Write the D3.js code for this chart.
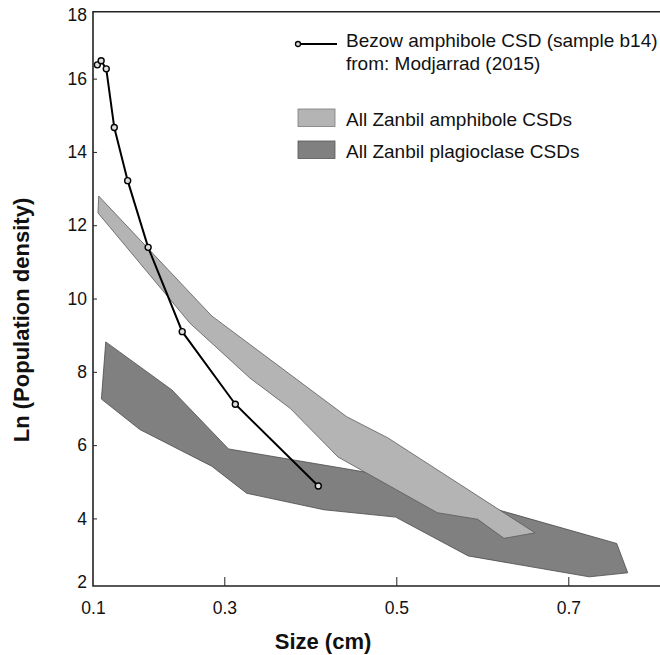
<!DOCTYPE html>
<html>
<head>
<meta charset="utf-8" />
<title>CSD plot</title>
<style>
body { margin: 0; background: #fff; }
#graph { width: 660px; height: 655px; }
svg text { font-family: "Liberation Sans", Arial, Helvetica, sans-serif; fill: #111; }
.axis path, .axis line { stroke: #222; }
</style>
</head>
<body>
<div id="graph"></div>

<script src="https://cdnjs.cloudflare.com/ajax/libs/d3/7.8.5/d3.min.js"></script>
<script>
// Bezow amphibole CSD (sample b14), line with markers
var bezowSize = [0.1066, 0.1124, 0.1202, 0.1324, 0.1528, 0.1840, 0.2359, 0.3128, 0.4093]
var bezowLn   = [16.39, 16.50, 16.28, 14.68, 13.23, 11.41, 9.11, 7.13, 4.90]

// All Zanbil amphibole CSDs, outline of the field (upper edge, then lower edge back)
var amphSize = [0.1087, 0.2808, 0.4423, 0.4903, 0.6613, 0.6252, 0.5947, 0.5477, 0.4322, 0.3765, 0.3300, 0.2477, 0.1076]
var amphLn   = [12.81, 9.54, 6.79, 6.21, 3.62, 3.47, 3.99, 4.17, 5.69, 7.02, 7.84, 9.34, 12.35]

// All Zanbil plagioclase CSDs, outline of the field
var plagSize = [0.1194, 0.2202, 0.3049, 0.4636, 0.7563, 0.7691, 0.7244, 0.5837, 0.4992, 0.4159, 0.3260, 0.2808, 0.1713, 0.1128]
var plagLn   = [8.83, 7.52, 5.91, 5.28, 3.33, 2.53, 2.42, 2.99, 4.05, 4.25, 4.70, 5.44, 6.44, 7.27]

var xTicks = [0.1, 0.3, 0.5, 0.7]
var yTicks = [2, 4, 6, 8, 10, 12, 14, 16, 18]

var legendItems = [
    { label: "All Zanbil amphibole CSDs", fill: "#b4b4b4", stroke: "#7a7a7a" },
    { label: "All Zanbil plagioclase CSDs", fill: "#808080", stroke: "#555" }
]

!(function(){
    "use strict"

    var left = 93, top = 11.7, bottom = 586, right = 660

    var svg = d3.select("#graph").append("svg")
        .attr("width", 660).attr("height", 655)

    // the original figure puts "0.1" at the origin, closer than the other ticks
    var xScale = d3.scaleLinear()
        .domain([0.1, 0.3, 0.81])
        .range([left, 224.3, 224.3 + 0.51 * 860])

    var yScale = d3.scaleLinear()
        .domain([2.17, 17.84])
        .range([bottom, top])

    var chartLayer = svg.append("g").classed("chartLayer", true)
    var axisLayer = svg.append("g").classed("axisLayer", true)

    function pts(xs, ys) { return xs.map(function(x, i){ return [x, ys[i]] }) }

    var area = d3.line()
        .x(function(d){ return xScale(d[0]) })
        .y(function(d){ return yScale(d[1]) })
        .curve(d3.curveLinearClosed)

    var line = d3.line()
        .x(function(d){ return xScale(d[0]) })
        .y(function(d){ return yScale(d[1]) })

    chartLayer.append("path")
        .attr("d", area(pts(plagSize, plagLn)))
        .attr("fill", "#808080")
        .attr("stroke", "#4a4a4a")
        .attr("stroke-width", 0.8)

    chartLayer.append("path")
        .attr("d", area(pts(amphSize, amphLn)))
        .attr("fill", "#b4b4b4")
        .attr("stroke", "#5a5a5a")
        .attr("stroke-width", 0.8)

    var bezow = pts(bezowSize, bezowLn)
    chartLayer.append("path")
        .attr("d", line(bezow))
        .attr("fill", "none")
        .attr("stroke", "#000")
        .attr("stroke-width", 2)

    chartLayer.selectAll(".pt").data(bezow).enter().append("circle")
        .classed("pt", true)
        .attr("cx", function(d){ return xScale(d[0]) })
        .attr("cy", function(d){ return yScale(d[1]) })
        .attr("r", 3)
        .attr("fill", "#ddd")
        .attr("stroke", "#000")
        .attr("stroke-width", 1.4)

    // axes
    var xAxis = d3.axisBottom(xScale)
        .tickValues(xTicks)
        .tickFormat(d3.format(".1f"))
        .tickSizeInner(-9).tickSizeOuter(0).tickPadding(16)

    var gx = axisLayer.append("g")
        .attr("class", "axis x")
        .attr("transform", "translate(0," + bottom + ")")
        .call(xAxis)
    gx.select(".domain").remove()
    gx.selectAll("text").style("font-size", "17.5px")
    gx.selectAll(".tick").filter(function(d){ return d === 0.1 }).select("line").remove()

    var yAxis = d3.axisLeft(yScale)
        .tickValues(yTicks)
        .tickSizeInner(-4).tickSizeOuter(0).tickPadding(6)

    var gy = axisLayer.append("g")
        .attr("class", "axis y")
        .attr("transform", "translate(" + left + ",0)")
        .call(yAxis)
    gy.select(".domain").remove()
    gy.selectAll("text").style("font-size", "17.5px")
    // end labels sit just inside the frame
    gy.selectAll(".tick").each(function(d){
        var y = Math.max(15, Math.min(582, yScale(d)))
        d3.select(this).attr("transform", "translate(0," + y + ")")
        if (d === 2 || d === 18) d3.select(this).select("line").remove()
    })

    // frame: left, bottom and top
    axisLayer.append("path")
        .attr("d", "M" + right + "," + top + "H" + left + "V" + bottom + "H" + right)
        .attr("fill", "none")
        .attr("stroke", "#222")
        .attr("stroke-width", 1.6)

    svg.append("text")
        .attr("x", 323).attr("y", 649)
        .attr("text-anchor", "middle")
        .style("font-size", "22px").style("font-weight", "bold")
        .text("Size (cm)")

    svg.append("text")
        .attr("transform", "translate(29,320) rotate(-90)")
        .attr("text-anchor", "middle")
        .style("font-size", "22px").style("font-weight", "bold")
        .text("Ln (Population density)")

    // legend
    var lg = svg.append("g").attr("class", "legend")
    lg.append("line")
        .attr("x1", 298).attr("x2", 337).attr("y1", 44).attr("y2", 44)
        .attr("stroke", "#000").attr("stroke-width", 2)
    lg.append("circle")
        .attr("cx", 298).attr("cy", 44).attr("r", 2.5)
        .attr("fill", "#ddd").attr("stroke", "#000").attr("stroke-width", 1.3)
    lg.append("text").attr("x", 346).attr("y", 47)
        .style("font-size", "19px").text("Bezow amphibole CSD (sample b14)")
    lg.append("text").attr("x", 346).attr("y", 70)
        .style("font-size", "19px").text("from: Modjarrad (2015)")

    var boxY = [109, 141]
    legendItems.forEach(function(item, i){
        lg.append("rect")
            .attr("x", 298).attr("y", boxY[i]).attr("width", 37).attr("height", 17.5)
            .attr("fill", item.fill).attr("stroke", item.stroke).attr("stroke-width", 0.8)
        lg.append("text").attr("x", 346).attr("y", boxY[i] + 16.5)
            .style("font-size", "19px").text(item.label)
    })

}());
</script>
</body>
</html>
